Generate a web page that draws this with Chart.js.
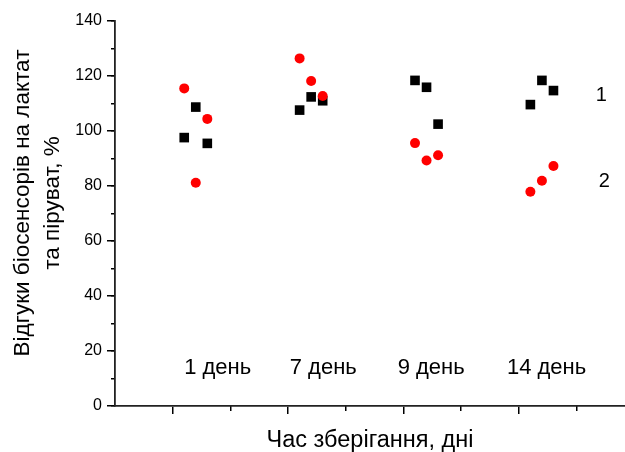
<!DOCTYPE html>
<html>
<head>
<meta charset="utf-8">
<script src="https://cdn.jsdelivr.net/npm/chart.js@4.4.0/dist/chart.umd.min.js"></script>
<style>
  body { margin: 0; background: #fff; }
  #wrap { width: 625px; height: 452px; }
</style>
</head>
<body>
<div id="wrap"><canvas id="chart"></canvas></div>
<script>
// days of storage, placed at the odd major ticks of the x axis
const dayLabels = ['1 день', '7 день', '9 день', '14 день'];
const dayPos = [1, 3, 5, 7];
const minorPos = [2, 4, 6, 8];
const pointOffsets = [0.2, 0.4, 0.6];

// series 1 - black squares, three measurements per day
const series1 = [
  [97.6, 108.7, 95.5],
  [107.6, 112.4, 111.0],
  [118.4, 115.9, 102.5],
  [109.6, 118.4, 114.7]
];
// series 2 - red circles
const series2 = [
  [115.5, 81.2, 104.4],
  [126.4, 118.2, 112.7],
  [95.6, 89.3, 91.2],
  [77.9, 81.9, 87.3]
];

const yMax = 140;
const yStep = 20;
const yMinorStep = 10;

function toPoints(series) {
  const pts = [];
  series.forEach((vals, i) => {
    vals.forEach((v, j) => pts.push({x: dayPos[i] + pointOffsets[j], y: v}));
  });
  return pts;
}

const FONT = '"Liberation Sans", Arial, sans-serif';

// text placed inside the plot (data units)
const dayText = {x: [1.78, 3.61, 5.48, 7.48], y: 11.6};
const seriesText = [
  {text: '1', x: 8.43, y: 111.0},
  {text: '2', x: 8.48, y: 79.5}
];

const textPlugin = {
  id: 'texts',
  afterDraw(chart) {
    const ctx = chart.ctx;
    const xs = chart.scales.x, ys = chart.scales.y;
    ctx.save();
    ctx.fillStyle = '#000';
    ctx.textAlign = 'center';
    ctx.textBaseline = 'alphabetic';
    ctx.font = '22px ' + FONT;
    dayLabels.forEach((t, i) => {
      ctx.fillText(t, xs.getPixelForValue(dayText.x[i]), ys.getPixelForValue(dayText.y));
    });
    ctx.font = '20px ' + FONT;
    seriesText.forEach(s => {
      ctx.fillText(s.text, xs.getPixelForValue(s.x), ys.getPixelForValue(s.y));
    });
    // y axis title, two lines
    ctx.font = '22.5px ' + FONT;
    ctx.translate(0, 203);
    ctx.rotate(-Math.PI / 2);
    ctx.fillText('Відгуки біосенсорів на лактат', 0, 28.5);
    ctx.fillText('та піруват, %', 0, 58.5);
    ctx.restore();
  }
};

new Chart(document.getElementById('chart'), {
  type: 'scatter',
  data: {
    datasets: [
      {
        label: '1',
        data: toPoints(series1),
        order: 1,   // red circles go on top
        pointStyle: 'rect',
        pointRadius: 6.8,
        backgroundColor: '#000',
        borderColor: '#000',
        borderWidth: 0
      },
      {
        label: '2',
        data: toPoints(series2),
        order: 0,
        pointStyle: 'circle',
        pointRadius: 5,
        backgroundColor: '#ff0000',
        borderColor: '#ff0000',
        borderWidth: 0
      }
    ]
  },
  options: {
    responsive: true,
    maintainAspectRatio: false,
    animation: false,
    layout: {autoPadding: false, padding: {top: 21, right: 0, bottom: 0, left: 0}},
    plugins: {legend: {display: false}, tooltip: {enabled: false}},
    scales: {
      x: {
        type: 'linear',
        position: 'bottom',
        weight: 1,
        min: 0,
        max: 8.84,
        afterBuildTicks: (s) => { s.ticks = dayPos.map(v => ({value: v})); },
        afterFit: (s) => { s.height = 46; },
        ticks: {display: false},
        grid: {drawOnChartArea: false, tickLength: 8, color: '#000', lineWidth: 1.5},
        border: {color: '#222', width: 1.8},
        title: {
          display: true,
          text: 'Час зберігання, дні',
          color: '#000',
          font: {family: FONT, size: 23.5, lineHeight: 1},
          padding: {top: 0, bottom: 0}
        }
      },
      xMinor: {
        type: 'linear',
        position: 'bottom',
        weight: 0,
        min: 0,
        max: 8.84,
        afterBuildTicks: (s) => { s.ticks = minorPos.map(v => ({value: v})); },
        afterFit: (s) => { s.height = 0; },
        ticks: {display: false},
        grid: {drawOnChartArea: false, tickLength: 5, color: '#000', lineWidth: 1.5},
        border: {display: false}
      },
      y: {
        position: 'left',
        weight: 1,
        min: 0,
        max: yMax,
        afterFit: (s) => { s.width = 115; },
        ticks: {stepSize: yStep, color: '#000', padding: 5, font: {family: FONT, size: 16}},
        grid: {drawOnChartArea: false, tickLength: 8, color: '#000', lineWidth: 1.5},
        border: {color: '#222', width: 1.8}
      },
      yMinor: {
        position: 'left',
        weight: 0,
        min: 0,
        max: yMax,
        afterFit: (s) => { s.width = 0; },
        ticks: {stepSize: yMinorStep, display: false},
        grid: {drawOnChartArea: false, tickLength: 4, color: '#000', lineWidth: 1.5},
        border: {display: false}
      }
    }
  },
  plugins: [textPlugin]
});
</script>
</body>
</html>
